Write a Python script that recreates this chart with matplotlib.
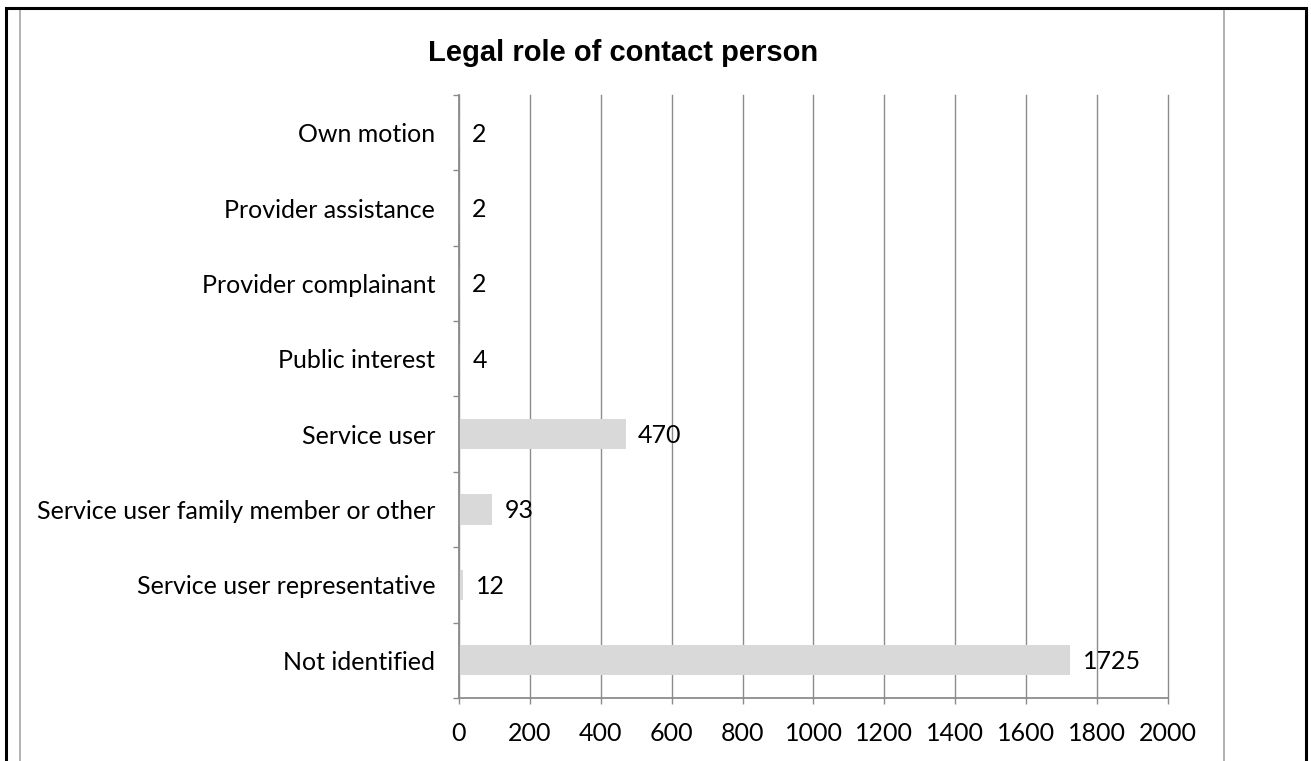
import numpy as np
import matplotlib
matplotlib.use("Agg")
import matplotlib.pyplot as plt
from matplotlib.patches import Rectangle

# counts per legal role, listed top to bottom as shown
roles = [
    "Own motion",
    "Provider assistance",
    "Provider complainant",
    "Public interest",
    "Service user",
    "Service user family member or other",
    "Service user representative",
    "Not identified",
]
counts = [2, 2, 2, 4, 470, 93, 12, 1725]
x_ticks = [0, 200, 400, 600, 800, 1000, 1200, 1400, 1600, 1800, 2000]

GRID = "#8c8c8c"
BAR = "#d9d9d9"
LABEL_FONT = "Lato"
FS = 18

fig = plt.figure(figsize=(13.11, 7.61), dpi=100)
ax = fig.add_axes([0.3501, 0.0828, 0.5408, 0.7924])

n = len(roles)
ypos = np.arange(n)[::-1]
ax.barh(ypos, counts, height=0.4, color=BAR, zorder=2)

ax.set_xlim(0, 2000)
ax.set_ylim(-0.5, n - 0.5)

# vertical gridlines
ax.set_xticks(x_ticks)
ax.set_xticklabels([str(t) for t in x_ticks], fontsize=FS, family=LABEL_FONT)
ax.xaxis.grid(True, color=GRID, linewidth=1.0, zorder=0)
for gl in ax.get_xgridlines():
    gl.set_clip_on(False)
ax.tick_params(axis="x", length=4.5, width=1.0, color=GRID, pad=12.5)

# category ticks between bands, labels at band centres
ax.set_yticks(np.arange(-0.5, n, 1.0))
ax.set_yticklabels([])
ax.tick_params(axis="y", which="major", length=4.5, width=1.0, color=GRID)
ax.set_yticks(ypos, minor=True)
ax.set_yticklabels(roles, minor=True, fontsize=FS, family=LABEL_FONT)
ax.tick_params(axis="y", which="minor", length=0, pad=17)

for side in ["top", "right"]:
    ax.spines[side].set_visible(False)
for side in ["left", "bottom"]:
    ax.spines[side].set_color(GRID)
    ax.spines[side].set_linewidth(1.3)
    ax.spines[side].set_zorder(3)

for y, v in zip(ypos, counts):
    ax.annotate(str(v), xy=(v, y), xytext=(9, -1), textcoords="offset points",
                va="center", ha="left", fontsize=FS, family=LABEL_FONT, zorder=4)

fig.text(0.4752, 0.930, "Legal role of contact person", ha="center", va="center",
         fontsize=21, fontweight="bold", family="Liberation Sans")

# outer frames around the chart
fig.add_artist(Rectangle((20 / 1311, -0.1), (1224 - 20) / 1311, 1.1 - 8.5 / 761,
                         transform=fig.transFigure, fill=False, edgecolor="#a6a6a6",
                         linewidth=1.2, clip_on=False))
fig.add_artist(Rectangle((6 / 1311, -0.1), (1306 - 6) / 1311, 1.1 - 7.5 / 761,
                         transform=fig.transFigure, fill=False, edgecolor="black",
                         linewidth=2.2, clip_on=False))

fig.savefig("out.png", dpi=100)
